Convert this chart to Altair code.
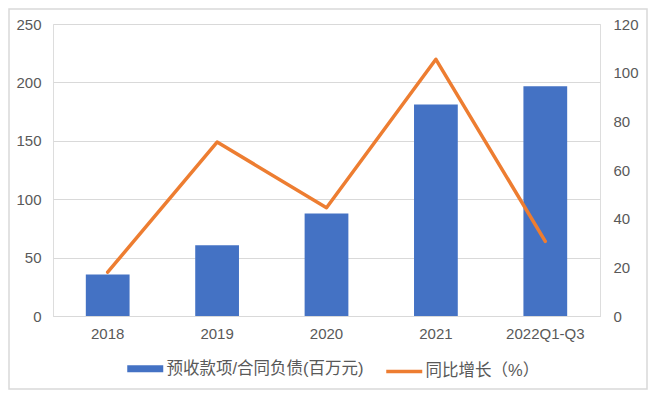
import altair as alt
import pandas as pd

categories = ["2018", "2019", "2020", "2021", "2022Q1-Q3"]
advance_receipts = [35.5, 60.5, 87.7, 181.1, 196.6]
yoy_growth = [18.0, 71.5, 44.5, 105.5, 30.7]
series_names = ["预收款项/合同负债(百万元)", "同比增长（%）"]
series_colors = ["#4472C4", "#ED7D31"]
left_ticks = [0, 50, 100, 150, 200, 250]
right_ticks = [0, 20, 40, 60, 80, 100, 120]

FONT = "Liberation Sans, Noto Sans CJK SC, sans-serif"
LABEL = "#595959"
GRID = "#d9d9d9"

df = pd.DataFrame({"category": categories, "value": advance_receipts, "growth": yoy_growth})

W, H = 547, 292
PAD = {"left": 45, "top": 16, "right": 48, "bottom": 74}

x = alt.X(
    "category:N",
    sort=categories,
    scale=alt.Scale(paddingInner=0, paddingOuter=0),
    axis=alt.Axis(title=None, labelAngle=0, ticks=False, domain=True, domainColor=GRID,
                  domainWidth=1, labelPadding=10, labelFontSize=15, labelColor=LABEL, labelFont=FONT),
)

color = alt.Color(
    "s:N",
    scale=alt.Scale(domain=series_names, range=series_colors),
    legend=alt.Legend(
        title=None, orient="none", legendX=84, legendY=336, direction="horizontal",
        symbolType="stroke", symbolSize=1296,
        symbolStrokeWidth=alt.ExprRef(f"datum.value === '{series_names[0]}' ? 7 : 3.5"),
        symbolStrokeColor=alt.ExprRef(
            f"datum.value === '{series_names[0]}' ? '{series_colors[0]}' : '{series_colors[1]}'"),
        labelFontSize=16.5, labelColor=LABEL, labelFont=FONT, columnPadding=15, labelOffset=13,
        labelLimit=400,
    ),
)

border = alt.Chart(pd.DataFrame({"k": [0]})).mark_rect(
    fill=None, stroke=GRID, strokeWidth=1.5, clip=False
).encode(
    x=alt.value(-PAD["left"] + 1), x2=alt.value(W + PAD["right"] - 1),
    y=alt.value(-PAD["top"] + 1), y2=alt.value(H + PAD["bottom"] - 1),
)

bars = alt.Chart(df).transform_calculate(s=f"'{series_names[0]}'").mark_bar(
    width=alt.RelativeBandSize(0.4)
).encode(
    x=x,
    y=alt.Y("value:Q", scale=alt.Scale(domain=[0, 250]),
            axis=alt.Axis(title=None, values=left_ticks, grid=True, gridColor=GRID, gridWidth=1.2,
                          ticks=False, domain=False, labelPadding=12, labelFontSize=15,
                          labelColor=LABEL, labelFont=FONT)),
    color=color,
)

line = alt.Chart(df).transform_calculate(s=f"'{series_names[1]}'").mark_line(
    strokeWidth=3.5, strokeCap="round", strokeJoin="round"
).encode(
    x=x,
    y=alt.Y("growth:Q", scale=alt.Scale(domain=[0, 120]),
            axis=alt.Axis(title=None, orient="right", values=right_ticks, grid=False, ticks=False,
                          domain=False, labelPadding=13, labelFontSize=15, labelColor=LABEL,
                          labelFont=FONT)),
    color=color,
)

chart = alt.layer(border, bars, line).resolve_scale(y="independent").properties(
    width=W, height=H, autosize=alt.AutoSizeParams(type="none"), padding=PAD,
).configure_view(stroke=None).configure(background="white")

chart.save("out.html", embed_options={"renderer": "svg", "actions": False})
